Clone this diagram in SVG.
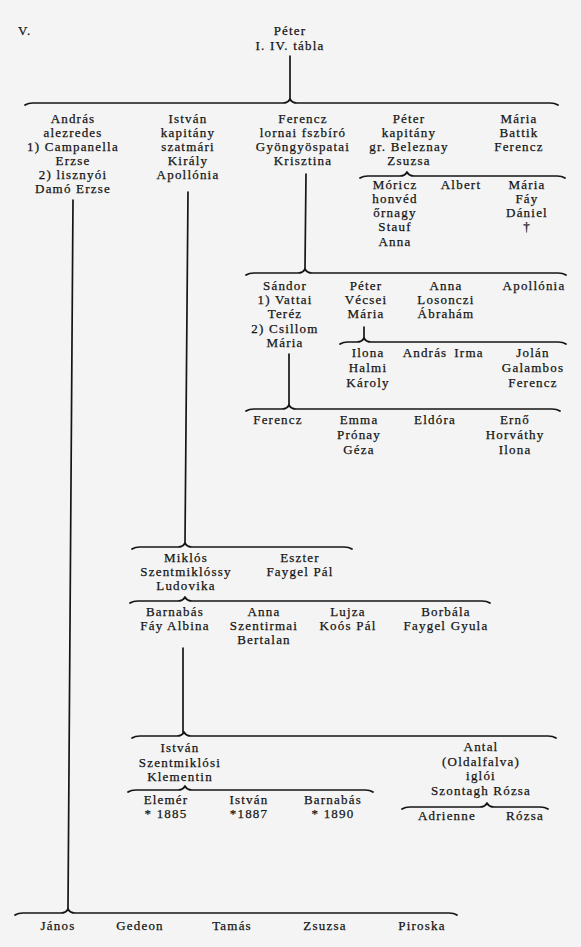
<svg xmlns="http://www.w3.org/2000/svg" width="581" height="947" viewBox="0 0 581 947">
<style>
.t{font-family:"Liberation Serif","DejaVu Serif",serif;font-size:13px;letter-spacing:1.2px;fill:#141414;stroke:#141414;stroke-width:0.25;text-anchor:middle}
.s{text-anchor:start}
.c path,.c line{fill:none;stroke:#151515;stroke-width:1.7;stroke-linecap:round;stroke-linejoin:round}
</style>
<rect width="581" height="947" fill="#f4f4f4"/>
<g id="connectors" class="c">
<line x1="290" y1="56" x2="290" y2="99"/>
<path d="M25,105 Q28,103 33,103 L283,103 Q288,103 290,99 Q292,103 297,103 L550,103 Q555,103 558,105"/>
<line x1="73" y1="200" x2="68" y2="909"/>
<line x1="188" y1="192" x2="185" y2="543"/>
<line x1="306" y1="174" x2="305" y2="269"/>
<path d="M360,178 Q363,176 368,176 L400,176 Q405,176 407,172 Q409,176 414,176 L557,176 Q562,176 565,178"/>
<path d="M246,275 Q249,273 254,273 L298,273 Q303,273 305,269 Q307,273 312,273 L558,273 Q563,273 566,275"/>
<line x1="364" y1="327" x2="364" y2="338"/>
<path d="M340,344 Q343,342 348,342 L357,342 Q362,342 364,338 Q366,342 371,342 L558,342 Q563,342 566,344"/>
<line x1="289" y1="354" x2="289" y2="405"/>
<path d="M246,411 Q249,409 254,409 L282,409 Q287,409 289,405 Q291,409 296,409 L552,409 Q557,409 560,411"/>
<path d="M132,549 Q135,547 140,547 L178,547 Q183,547 185,543 Q187,547 192,547 L344,547 Q349,547 352,549"/>
<path d="M130,603 Q133,601 138,601 L178,601 Q183,601 185,597 Q187,601 192,601 L482,601 Q487,601 490,603"/>
<line x1="183" y1="648" x2="183" y2="732"/>
<path d="M132,738 Q135,736 140,736 L177,736 Q182,736 184,732 Q186,736 191,736 L548,736 Q553,736 556,738"/>
<path d="M128,792 Q131,790 136,790 L178,790 Q183,790 185,786 Q187,790 192,790 L365,790 Q370,790 373,792"/>
<path d="M402,809 Q405,807 410,807 L480,807 Q485,807 487,803 Q489,807 494,807 L540,807 Q545,807 548,809"/>
<path d="M15,915 Q18,913 23,913 L61,913 Q66,913 68,909 Q70,913 75,913 L449,913 Q454,913 457,915"/>
</g>
<g id="header">
<text class="t s" x="18" y="35">V.</text>
<text class="t" x="290" y="35">Péter</text>
<text class="t" x="290" y="50">I. IV. tábla</text>
</g>
<g id="andras"><text class="t"><tspan x="73" y="123">András</tspan><tspan x="73" y="137">alezredes</tspan><tspan x="73" y="151">1) Campanella</tspan><tspan x="73" y="165">Erzse</tspan><tspan x="73" y="179">2) lisznyói</tspan><tspan x="73" y="193">Damó Erzse</tspan></text></g>
<g id="istvan1"><text class="t"><tspan x="188" y="123">István</tspan><tspan x="188" y="137">kapitány</tspan><tspan x="188" y="151">szatmári</tspan><tspan x="188" y="165">Király</tspan><tspan x="188" y="179">Apollónia</tspan></text></g>
<g id="ferencz1"><text class="t"><tspan x="303" y="123">Ferencz</tspan><tspan x="303" y="137">lornai fszbíró</tspan><tspan x="303" y="151">Gyöngyöspatai</tspan><tspan x="303" y="165">Krisztina</tspan></text></g>
<g id="peter1"><text class="t"><tspan x="409" y="123">Péter</tspan><tspan x="409" y="137">kapitány</tspan><tspan x="409" y="151">gr. Beleznay</tspan><tspan x="409" y="165">Zsuzsa</tspan></text></g>
<g id="maria1"><text class="t"><tspan x="519" y="123">Mária</tspan><tspan x="519" y="137">Battik</tspan><tspan x="519" y="151">Ferencz</tspan></text></g>
<g id="moricz"><text class="t"><tspan x="395" y="189">Móricz</tspan><tspan x="395" y="203">honvéd</tspan><tspan x="395" y="217">őrnagy</tspan><tspan x="395" y="231">Stauf</tspan><tspan x="395" y="246">Anna</tspan></text></g>
<g id="albert"><text class="t" x="461" y="189">Albert</text></g>
<g id="maria2"><text class="t"><tspan x="527" y="189">Mária</tspan><tspan x="527" y="203">Fáy</tspan><tspan x="527" y="217">Dániel</tspan><tspan x="527" y="231">†</tspan></text></g>
<g id="sandor"><text class="t"><tspan x="285" y="290">Sándor</tspan><tspan x="285" y="304">1) Vattai</tspan><tspan x="285" y="318">Teréz</tspan><tspan x="285" y="333">2) Csillom</tspan><tspan x="285" y="347">Mária</tspan></text></g>
<g id="peter2"><text class="t"><tspan x="366" y="290">Péter</tspan><tspan x="366" y="304">Vécsei</tspan><tspan x="366" y="318">Mária</tspan></text></g>
<g id="anna1"><text class="t"><tspan x="446" y="290">Anna</tspan><tspan x="446" y="304">Losonczi</tspan><tspan x="446" y="318">Ábrahám</tspan></text></g>
<g id="apollonia"><text class="t" x="534" y="290">Apollónia</text></g>
<g id="ilona"><text class="t"><tspan x="368" y="357">Ilona</tspan><tspan x="368" y="372">Halmi</tspan><tspan x="368" y="387">Károly</tspan></text></g>
<g id="andras2"><text class="t" x="425" y="357">András</text></g>
<g id="irma"><text class="t" x="469" y="357">Irma</text></g>
<g id="jolan"><text class="t"><tspan x="533" y="357">Jolán</tspan><tspan x="533" y="372">Galambos</tspan><tspan x="533" y="387">Ferencz</tspan></text></g>
<g id="ferencz2"><text class="t" x="278" y="424">Ferencz</text></g>
<g id="emma"><text class="t"><tspan x="359" y="424">Emma</tspan><tspan x="359" y="439">Prónay</tspan><tspan x="359" y="454">Géza</tspan></text></g>
<g id="eldora"><text class="t" x="435" y="424">Eldóra</text></g>
<g id="erno"><text class="t"><tspan x="515" y="424">Ernő</tspan><tspan x="515" y="439">Horváthy</tspan><tspan x="515" y="454">Ilona</tspan></text></g>
<g id="miklos"><text class="t"><tspan x="186" y="562">Miklós</tspan><tspan x="186" y="576">Szentmiklóssy</tspan><tspan x="186" y="590">Ludovika</tspan></text></g>
<g id="eszter"><text class="t"><tspan x="300" y="562">Eszter</tspan><tspan x="300" y="576">Faygel Pál</tspan></text></g>
<g id="barnabas"><text class="t"><tspan x="175" y="616">Barnabás</tspan><tspan x="175" y="630">Fáy Albina</tspan></text></g>
<g id="anna2"><text class="t"><tspan x="264" y="616">Anna</tspan><tspan x="264" y="630">Szentirmai</tspan><tspan x="264" y="644">Bertalan</tspan></text></g>
<g id="lujza"><text class="t"><tspan x="348" y="616">Lujza</tspan><tspan x="348" y="630">Koós Pál</tspan></text></g>
<g id="borbala"><text class="t"><tspan x="446" y="616">Borbála</tspan><tspan x="446" y="630">Faygel Gyula</tspan></text></g>
<g id="istvan2"><text class="t"><tspan x="180" y="752">István</tspan><tspan x="180" y="767">Szentmiklósi</tspan><tspan x="180" y="781">Klementin</tspan></text></g>
<g id="antal"><text class="t"><tspan x="481" y="751">Antal</tspan><tspan x="481" y="766">(Oldalfalva)</tspan><tspan x="481" y="780">iglói</tspan><tspan x="481" y="795">Szontagh Rózsa</tspan></text></g>
<g id="elemer"><text class="t"><tspan x="166" y="804">Elemér</tspan><tspan x="166" y="818">* 1885</tspan></text></g>
<g id="istvan3"><text class="t"><tspan x="249" y="804">István</tspan><tspan x="249" y="818">*1887</tspan></text></g>
<g id="barnabas2"><text class="t"><tspan x="333" y="804">Barnabás</tspan><tspan x="333" y="818">* 1890</tspan></text></g>
<g id="adrienne"><text class="t" x="447" y="820">Adrienne</text></g>
<g id="rozsa"><text class="t" x="525" y="820">Rózsa</text></g>
<g id="janos"><text class="t" x="58" y="930">János</text></g>
<g id="gedeon"><text class="t" x="140" y="930">Gedeon</text></g>
<g id="tamas"><text class="t" x="232" y="930">Tamás</text></g>
<g id="zsuzsa"><text class="t" x="325" y="930">Zsuzsa</text></g>
<g id="piroska"><text class="t" x="422" y="930">Piroska</text></g>
</svg>
